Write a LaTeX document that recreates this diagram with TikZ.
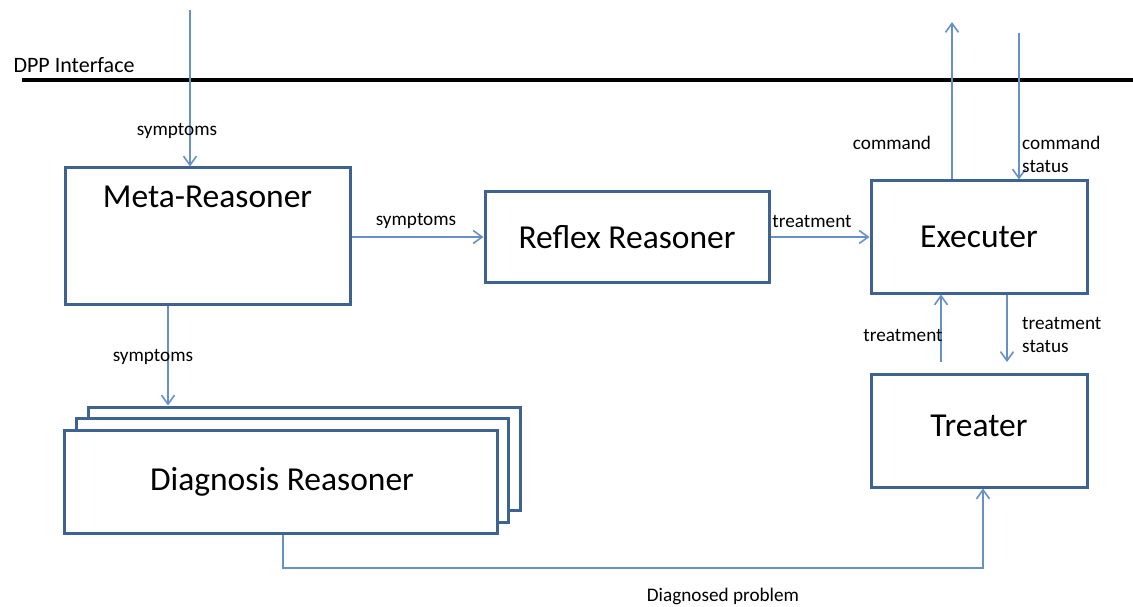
\documentclass[tikz,border=0pt]{standalone}
\usepackage{fontspec}
\setmainfont{Carlito}
\usetikzlibrary{arrows.meta}
\definecolor{boxblue}{HTML}{3F6390}
\definecolor{arrblue}{HTML}{6790C6}
\tikzset{
  box/.style={draw=boxblue, line width=3pt, fill=white, inner sep=0pt},
  title/.style={font=\fontsize{33.5}{38}\selectfont, inner sep=0pt},
  lbl/.style={font=\fontsize{19.2}{23}\selectfont, inner sep=0pt, align=left},
  conn/.style={draw=arrblue, line width=1.6pt},
  arr/.style={conn, -{Straight Barb[length=9pt,width=13pt,line width=1.6pt]}},
}
\begin{document}
\begin{tikzpicture}[x=1pt,y=-1pt]
\useasboundingbox (0,0) rectangle (1133,607);
% DPP interface
\coordinate (dppL) at (22,80);
\coordinate (dppR) at (1133,80);
\draw[line width=4pt] (dppL) -- (dppR);
\node[font=\fontsize{22}{26}\selectfont, inner sep=0pt] (dpp) at (74,65) {DPP Interface};
% boxes
\node[box, minimum width=285pt, minimum height=136pt] (meta) at (207.5,236) {};
\node[title, below=19pt] (metat) at (meta.north) {Meta-Reasoner};
\node[box, minimum width=284pt, minimum height=90pt] (reflex) at (627,237) {};
\node[title] (reflext) at (reflex.center) {Reflex Reasoner};
\node[box, minimum width=216pt, minimum height=112pt] (exec) at (979,237) {};
\node[title] (exect) at (exec.center) {Executer};
\node[box, minimum width=216pt, minimum height=113pt] (treat) at (979,430.5) {};
\node[title] (treatt) at (979,426) {Treater};
\node[box, minimum width=432pt, minimum height=103pt] (diag3) at (304,458.5) {};
\node[box, minimum width=432pt, minimum height=104pt] (diag2) at (292,470) {};
\node[box, minimum width=433pt, minimum height=103pt] (diag) at (280.5,481.5) {};
\node[title] (diagt) at (282,482) {Diagnosis Reasoner};
% free ends
\coordinate (inTop) at (190,10);
\coordinate (cmdTop) at (952,22);
\coordinate (csTop) at (1019,33);
\coordinate (trUp) at (941,362);
\coordinate (tsDown) at (1007,362);
\coordinate (symX) at (168,300);
\coordinate (dpCorner1) at (283,568);
\coordinate (dpCorner2) at (983,568);
% connectors
\draw[arr] (inTop) -- (inTop |- meta.north);
\draw[arr] (meta.east |- reflex.west) -- (reflex.west);
\draw[arr] (reflex.east) -- (exec.west);
\draw[arr] (cmdTop |- exec.north) -- (cmdTop);
\draw[arr] (csTop) -- (csTop |- exec.north);
\draw[arr] (trUp) -- (trUp |- exec.south);
\draw[arr] (tsDown |- exec.south) -- (tsDown);
\draw[arr] (symX |- meta.south) -- (symX |- diag3.north);
\draw[arr] (dpCorner1 |- diag.south) -- (dpCorner1) -- (dpCorner2) -- (dpCorner2 |- treat.south);
% labels
\node[lbl] (l1) at (177,131) {symptoms};
\node[lbl] (l2) at (416,221) {symptoms};
\node[lbl] (l3) at (812,221) {treatment};
\node[lbl] (l4) at (892,143) {command};
\node[lbl, anchor=west] (l5) at (1022,154) {command\\status};
\node[lbl] (l6) at (903,335) {treatment};
\node[lbl, anchor=west] (l7) at (1022,335) {treatment\\status};
\node[lbl] (l8) at (153,357) {symptoms};
\node[lbl] (l9) at (723,596) {Diagnosed problem};
\end{tikzpicture}
\end{document}
